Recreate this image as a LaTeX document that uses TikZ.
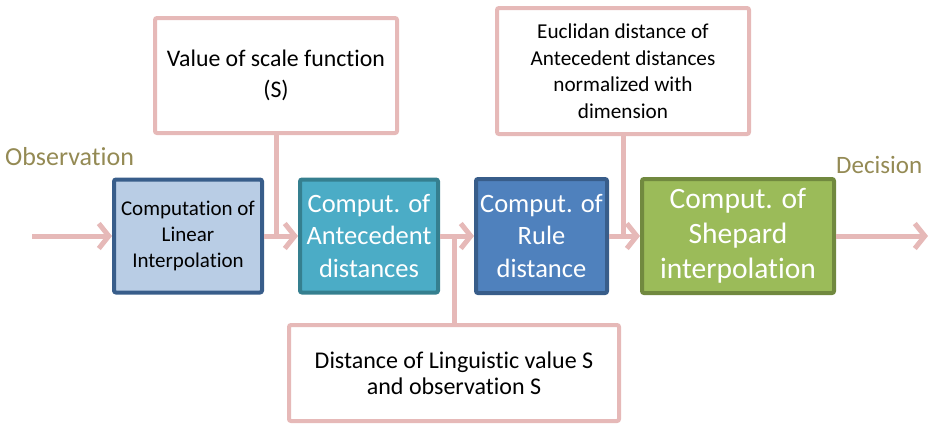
\documentclass[tikz,border=0pt]{standalone}
\usepackage{fontspec}
\setmainfont{Carlito}[Ligatures=NoCommon]
\usepackage{xcolor}
\usetikzlibrary{arrows.meta, positioning}

\definecolor{pinkline}{HTML}{E6B9B8}
\definecolor{olivetext}{HTML}{948A54}
\definecolor{linfill}{HTML}{B9CDE5}
\definecolor{linline}{HTML}{385D8A}
\definecolor{antfill}{HTML}{4BACC6}
\definecolor{antline}{HTML}{357F8F}
\definecolor{rulefill}{HTML}{4F81BD}
\definecolor{ruleline}{HTML}{385D8A}
\definecolor{shepfill}{HTML}{9BBB59}
\definecolor{shepline}{HTML}{71893F}

\begin{document}
\begin{tikzpicture}[x=1pt, y=-1pt, >={Straight Barb[length=10pt,width=25pt]},
  box/.style={draw, line width=4pt, rounded corners=2pt, align=center, inner sep=0pt},
  note/.style={draw=pinkline, fill=white, line width=4pt, rounded corners=2pt, align=center, inner sep=0pt},
  flow/.style={->, draw=pinkline, line width=5pt},
  link/.style={draw=pinkline, line width=5pt},
  label/.style={text=olivetext, anchor=west, inner sep=0pt}]
\useasboundingbox (0,0) rectangle (930,424);

\node[label, font=\fontsize{26}{30}\selectfont] at (5,157) (obs) {Observation};
\node[label, font=\fontsize{25}{30}\selectfont] at (836,165) (dec) {Decision};

\node[box, fill=linfill, draw=linline, minimum width=148pt, minimum height=113pt, font=\fontsize{21}{26}\selectfont] at (188,236) (lin) {Computation of\\Linear\\Interpolation};
\node[box, fill=antfill, draw=antline, text=white, minimum width=138pt, minimum height=113pt, font=\fontsize{26.5}{32.5}\selectfont] at (369,236) (ant) {Comput. of\\Antecedent\\distances};
\node[box, fill=rulefill, draw=ruleline, text=white, minimum width=131pt, minimum height=114pt, font=\fontsize{26.5}{32.5}\selectfont] at (541.5,236) (rule) {Comput. of\\Rule\\distance};
\node[box, fill=shepfill, draw=shepline, text=white, minimum width=192pt, minimum height=114pt, font=\fontsize{29.5}{35}\selectfont] at (738,236) (shep) {Comput. of\\Shepard\\interpolation};

\node[note, minimum width=242pt, minimum height=115pt, font=\fontsize{23.8}{31.5}\selectfont] at (276,75.5) (val) {Value of scale function\\(S)};
\node[note, minimum width=252pt, minimum height=126pt, font=\fontsize{21.2}{26.5}\selectfont] at (623,71) (euc) {Euclidan distance of\\Antecedent distances\\normalized with\\dimension};
\node[note, minimum width=330pt, minimum height=96pt, font=\fontsize{24}{26.5}\selectfont] at (454,373) (dist) {Distance of Linguistic value S\\and observation S};

\coordinate (in) at (32,236);
\coordinate (out) at (928,236);

% connectors
\draw[link] (val.south) -- (val.south |- lin.east);
\draw[link] (euc.south) -- (euc.south |- rule.east);
\draw[link] (dist.north) -- (dist.north |- ant.east);
\draw[flow] (in) -- (lin.west);
\draw[flow] (lin.east) -- (ant.west);
\draw[flow] (ant.east) -- (rule.west);
\draw[flow] (rule.east) -- (shep.west);
\draw[flow] (shep.east) -- (out);
\end{tikzpicture}
\end{document}
